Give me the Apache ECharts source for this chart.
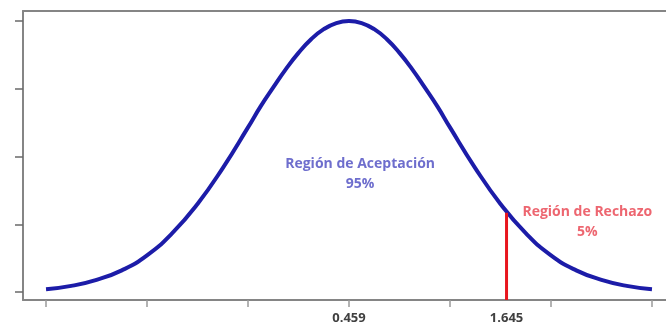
<!DOCTYPE html>
<html>
<head>
<meta charset="utf-8">
<script src="https://cdn.jsdelivr.net/npm/echarts@6/dist/echarts.min.js"></script>
<style>html,body{margin:0;padding:0;background:#fff}#c{width:666px;height:329px}</style>
</head>
<body>
<div id="c"></div>
<script>
// Curve samples (x in standard-deviation units, y in tick units)
var curveX = [-3, -2.75, -2.5, -2.25, -2, -1.75, -1.5, -1.25, -1, -0.875, -0.75, -0.625, -0.5, -0.375, -0.25, -0.125, 0, 0.125, 0.25, 0.375, 0.5, 0.625, 0.75, 0.875, 1, 1.25, 1.5, 1.75, 2, 2.25, 2.5, 2.75, 3];
var curveY = [0.04, 0.09, 0.18, 0.32, 0.54, 0.87, 1.30, 1.83, 2.43, 2.74, 3.02, 3.29, 3.53, 3.73, 3.88, 3.97, 4.0, 3.97, 3.88, 3.73, 3.53, 3.29, 3.02, 2.74, 2.43, 1.83, 1.30, 0.87, 0.54, 0.32, 0.18, 0.09, 0.04];
var xTickValues = [-3, -2, -1, 0, 1, 2, 3];
var yTickValues = [0, 1, 2, 3, 4];
var xLabelValues = [0, 1.56];
var xLabelTexts = ['0.459', '1.645'];
var criticalX = 1.56;
var criticalTop = 1.17;
var regionTexts = ['Región de Aceptación\n95%', 'Región de Rechazo\n5%'];
var regionPos = [[0.11, 1.74], [2.36, 1.03]];

var xMin = -3.228, xMax = 3.139, yMin = -0.118, yMax = 4.148;

var chart = echarts.init(document.getElementById('c'), null, {renderer: 'canvas'});
var axisGray = '#858585';
var font = '"Open Sans", Lato, sans-serif';
chart.setOption({
  animation: false,
  backgroundColor: '#ffffff',
  grid: {left: 23, right: 0, top: 11, bottom: 29, containLabel: false},
  xAxis: [{
    type: 'value', min: xMin, max: xMax, position: 'bottom',
    axisLine: {show: true, onZero: false, lineStyle: {color: axisGray, width: 2}},
    axisTick: {show: true, customValues: xTickValues, length: 7, lineStyle: {color: '#9a9a9a', width: 1.5}},
    axisLabel: {
      show: true, customValues: xLabelValues, margin: 12,
      color: '#404040', fontSize: 13, fontWeight: 'bold', fontFamily: font,
      formatter: function (v) { var i = xLabelValues.indexOf(v); return i >= 0 ? xLabelTexts[i] : ''; }
    },
    splitLine: {show: false}
  }, {
    type: 'value', min: xMin, max: xMax, position: 'top',
    axisLine: {show: true, onZero: false, lineStyle: {color: axisGray, width: 2}},
    axisTick: {show: false}, axisLabel: {show: false}, splitLine: {show: false}
  }],
  yAxis: {
    type: 'value', min: yMin, max: yMax,
    axisLine: {show: true, onZero: false, lineStyle: {color: axisGray, width: 2}},
    axisTick: {show: true, customValues: yTickValues, length: 8, lineStyle: {color: '#6a6a6a', width: 1.5}},
    axisLabel: {show: false},
    splitLine: {show: false}
  },
  series: [{
    type: 'line', smooth: 0.5, symbol: 'none',
    data: curveX.map(function (x, i) { return [x, curveY[i]]; }),
    lineStyle: {color: '#1c1ca8', width: 4}
  }, {
    type: 'line', symbol: 'none',
    data: [[criticalX, yMin], [criticalX, criticalTop]],
    lineStyle: {color: '#e8161e', width: 3}
  }, {
    type: 'scatter', symbolSize: 0,
    data: regionPos.map(function (p, i) {
      return {
        value: p,
        label: {
          show: true, position: 'inside', formatter: regionTexts[i],
          color: i === 0 ? '#4a4ac0' : '#e8404c',
          fontSize: 14, fontWeight: 'bold', lineHeight: 20, align: 'center',
          fontFamily: font
        }
      };
    })
  }]
});
</script>
</body>
</html>
